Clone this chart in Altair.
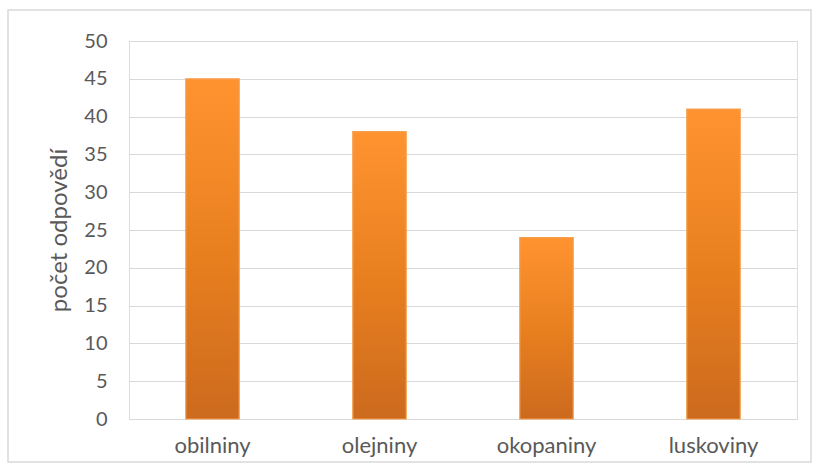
import altair as alt
import pandas as pd

categories = ["obilniny", "olejniny", "okopaniny", "luskoviny"]
values = [45, 38, 24, 41]

df = pd.DataFrame({"plodina": categories, "pocet": values})

FONT = "Lato"

grad = alt.Gradient(
    gradient="linear",
    x1=0, x2=0, y1=0, y2=1,
    stops=[alt.GradientStop(color="#FF9330", offset=0),
           alt.GradientStop(color="#E9801F", offset=0.5),
           alt.GradientStop(color="#CC6A1E", offset=1)],
)

base = alt.Chart(df)

frame = base.mark_rect(fillOpacity=0, stroke="#D9D9D9", strokeWidth=1.5, clip=False).encode(
    x=alt.value(-121), x2=alt.value(682), y=alt.value(-31), y2=alt.value(421)
).transform_filter(alt.datum.plodina == categories[0])

bars = base.mark_bar(color=grad, stroke="#F5A050", strokeWidth=1.2).encode(
    x=alt.X("plodina:N", sort=categories, title=None,
            scale=alt.Scale(paddingInner=0.68, paddingOuter=0.34),
            axis=alt.Axis(labelAngle=0, labelFontSize=22, labelColor="#595959",
                          labelFont=FONT, domain=False, ticks=False, labelPadding=16)),
    y=alt.Y("pocet:Q", title="počet odpovědí",
            scale=alt.Scale(domain=[0, 50]),
            axis=alt.Axis(values=list(range(0, 51, 5)), labelFontSize=20, labelColor="#595959",
                          labelFont=FONT, domain=False, ticks=False, labelPadding=22,
                          titleFont=FONT, titleFontSize=24, titleFontWeight="normal",
                          titleColor="#595959", titlePadding=12,
                          gridColor="#D9D9D9", gridWidth=1.2)),
)

chart = alt.layer(frame, bars).properties(
    width=668, height=378,
    autosize=alt.AutoSizeParams(type="none"),
    padding={"left": 129, "top": 41, "right": 19, "bottom": 53},
).configure_view(stroke=None).configure(background="white")

chart.save("out.html", embed_options={"renderer": "svg", "actions": False})
